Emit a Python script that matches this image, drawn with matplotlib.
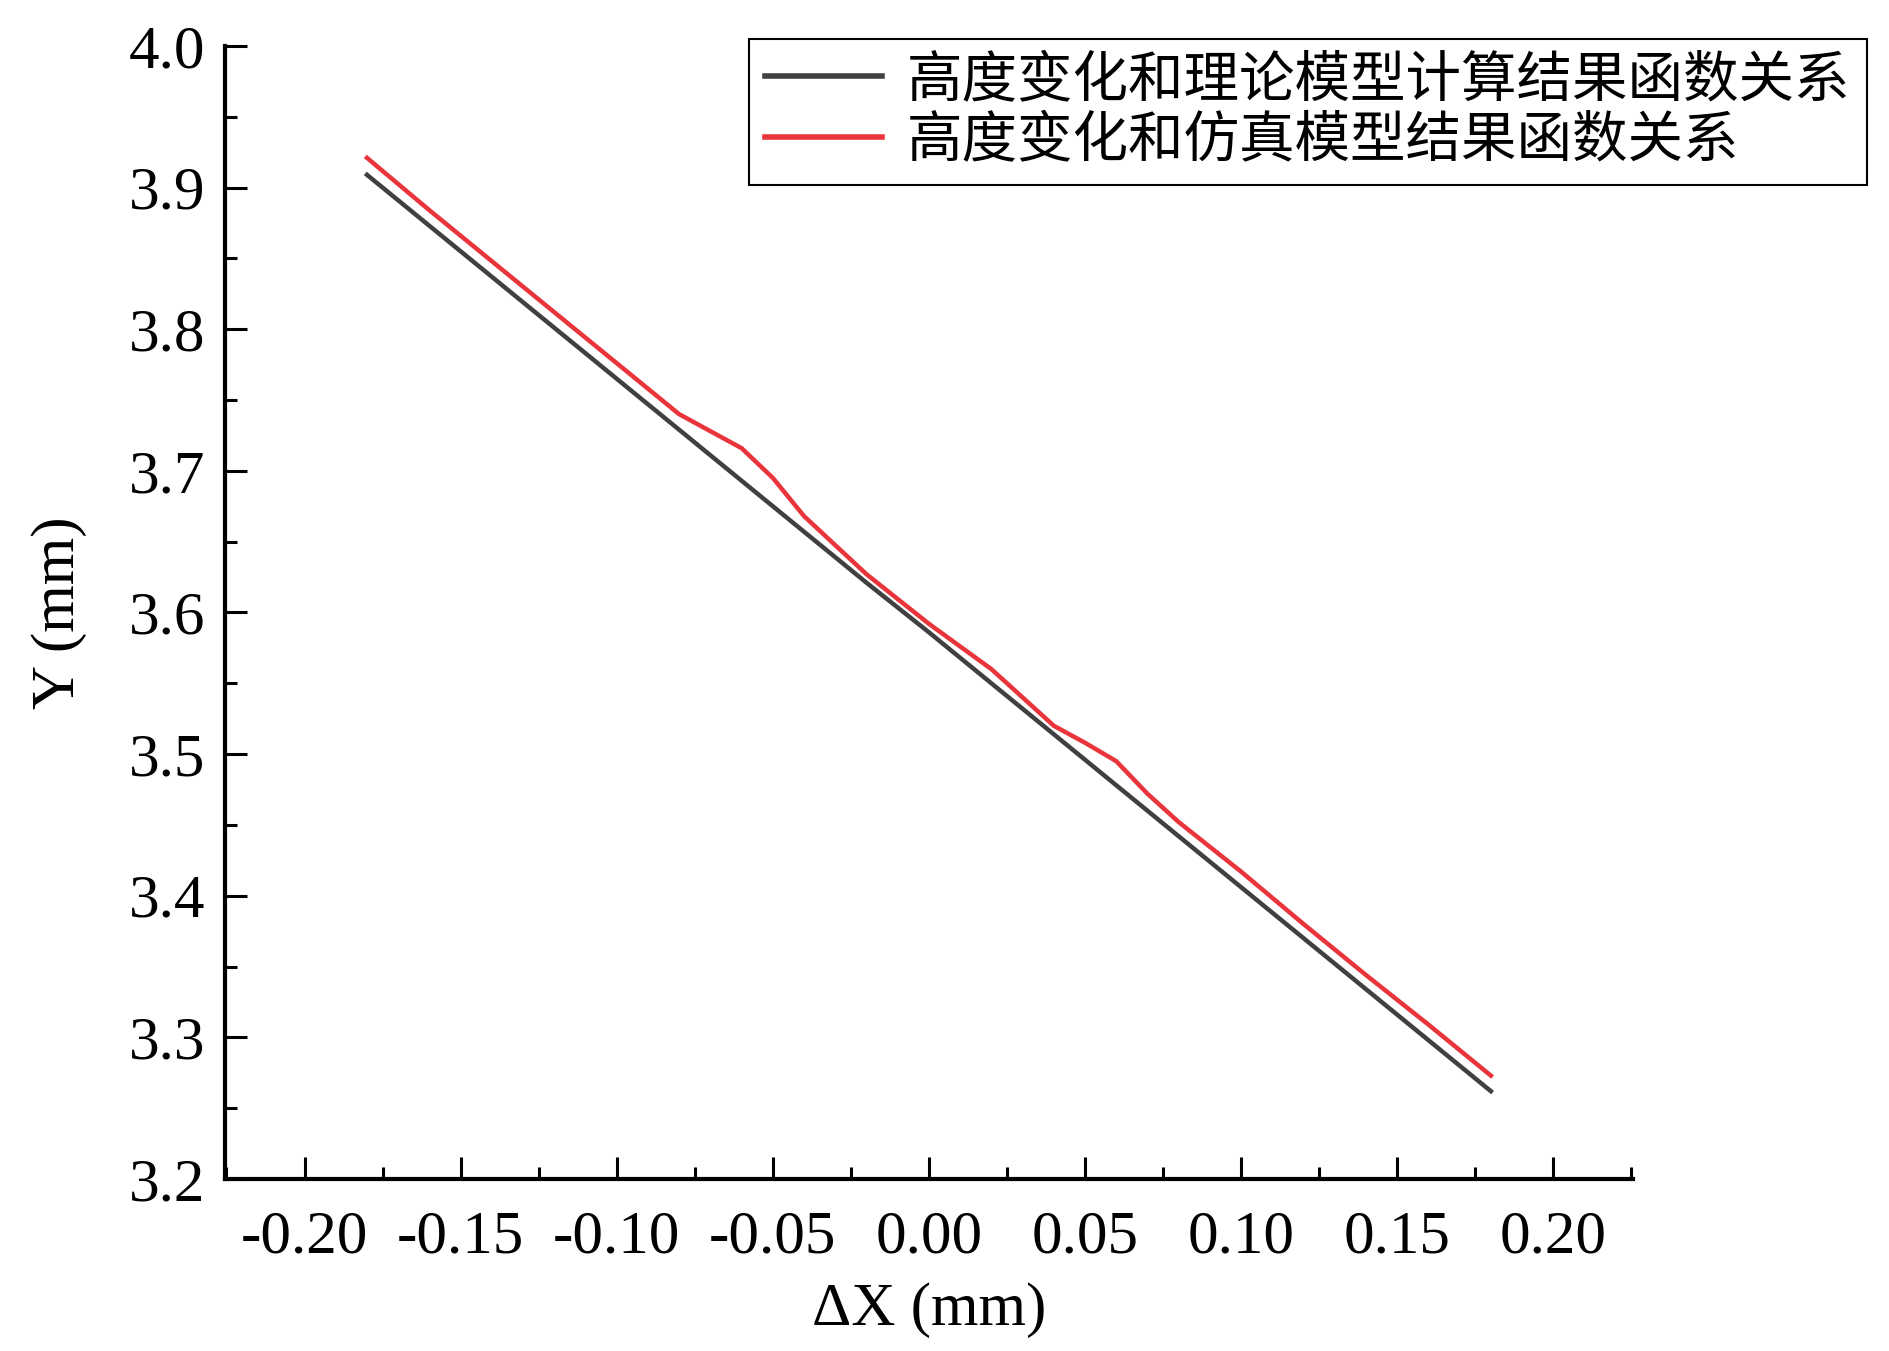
import matplotlib
matplotlib.use("Agg")
import matplotlib.pyplot as plt
from matplotlib.ticker import MultipleLocator, FormatStrFormatter

plt.rcParams['font.family'] = ['Liberation Serif', 'Noto Sans CJK SC']
plt.rcParams['axes.unicode_minus'] = False

# 数据
dx = [-0.18, -0.16, -0.14, -0.12, -0.10, -0.08, -0.07, -0.06, -0.05, -0.04,
      -0.02, 0.00, 0.02, 0.03, 0.04, 0.05, 0.06, 0.07, 0.08, 0.10,
      0.12, 0.14, 0.16, 0.18]
y_theory = [3.909, 3.873, 3.837, 3.801, 3.765, 3.729, 3.711, 3.693, 3.675, 3.657,
            3.621, 3.586, 3.550, 3.532, 3.514, 3.496, 3.478, 3.460, 3.442, 3.406,
            3.370, 3.334, 3.298, 3.262]
y_sim = [3.921, 3.884, 3.848, 3.812, 3.776, 3.740, 3.728, 3.716, 3.695, 3.668,
         3.627, 3.592, 3.560, 3.540, 3.520, 3.508, 3.495, 3.472, 3.452, 3.417,
         3.380, 3.344, 3.309, 3.273]

label_theory = '高度变化和理论模型计算结果函数关系'
label_sim = '高度变化和仿真模型结果函数关系'

fs = 44

fig = plt.figure(figsize=(18.9, 13.51), dpi=100)
ax = fig.add_axes([0.119, 0.1273, 0.745, 0.8387])

ax.plot(dx, y_theory, color='#404040', lw=3.2, label=label_theory)
ax.plot(dx, y_sim, color='#e8343a', lw=3.2, label=label_sim)

ax.set_xlim(-0.2255, 0.2255)
ax.set_ylim(3.2, 4.0)

ax.xaxis.set_major_locator(MultipleLocator(0.05))
ax.xaxis.set_minor_locator(MultipleLocator(0.025))
ax.yaxis.set_major_locator(MultipleLocator(0.1))
ax.yaxis.set_minor_locator(MultipleLocator(0.05))
ax.xaxis.set_major_formatter(FormatStrFormatter('%.2f'))
ax.yaxis.set_major_formatter(FormatStrFormatter('%.1f'))

for s in ['top', 'right']:
    ax.spines[s].set_visible(False)
for s in ['left', 'bottom']:
    ax.spines[s].set_linewidth(3)

ax.tick_params(which='major', direction='in', length=16, width=2.2, labelsize=fs)
ax.tick_params(which='minor', direction='in', length=8.5, width=2.2)
ax.tick_params(axis='x', which='major', pad=22)
ax.tick_params(axis='y', which='major', pad=14)

ax.set_xlabel('ΔX (mm)', fontsize=fs, labelpad=12)
ax.set_ylabel('Y (mm)', fontsize=fs, labelpad=30)

leg = fig.legend(loc='upper right', bbox_to_anchor=(0.988, 0.971),
                 fontsize=40, frameon=True, fancybox=False, framealpha=1,
                 handlelength=2.1, handletextpad=0.45, labelspacing=0.15,
                 borderpad=0.3, borderaxespad=0)
leg.get_frame().set_edgecolor('black')
leg.get_frame().set_linewidth(1.5)
for h in leg.get_lines():
    h.set_linewidth(4)

fig.savefig('out.png', dpi=100)
